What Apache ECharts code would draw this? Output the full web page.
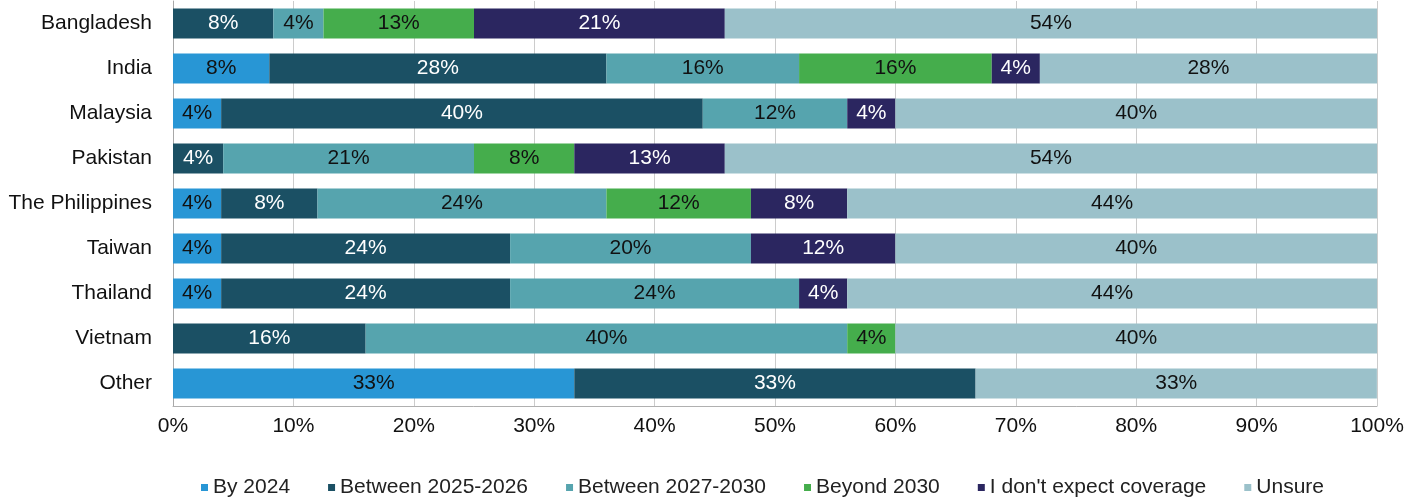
<!DOCTYPE html>
<html>
<head>
<meta charset="utf-8">
<script src="https://cdn.jsdelivr.net/npm/echarts@6/dist/echarts.min.js"></script>
<style>
  html, body { margin: 0; padding: 0; background: #fff; }
  #chart { width: 1408px; height: 499px; }
</style>
</head>
<body>
<div id="chart"></div>
<script>
// categories, top to bottom
var countries = ['Bangladesh', 'India', 'Malaysia', 'Pakistan', 'The Philippines', 'Taiwan', 'Thailand', 'Vietnam', 'Other']

// share of respondents (%) per answer
var by2024      = [0,    8,  4,  0,     4,  4,  4,  0,  33.33]
var y2025_2026  = [8.33, 28, 40, 4.17,  8,  24, 24, 16, 33.33]
var y2027_2030  = [4.17, 16, 12, 20.83, 24, 20, 24, 40, 0]
var beyond2030  = [12.5, 16, 0,  8.33,  12, 0,  0,  4,  0]
var noCoverage  = [20.83, 4, 4,  12.5,  8,  12, 4,  0,  0]
var unsure      = [54.17, 28, 40, 54.17, 44, 40, 44, 40, 33.33]

var xTicks = [0, 10, 20, 30, 40, 50, 60, 70, 80, 90, 100]

var font = 'Liberation Sans, Arial, Helvetica, sans-serif'
var fs = 21

var seriesDefs = [
  { name: 'By 2024', data: by2024, color: '#2896d5', text: '#111' },
  { name: 'Between 2025-2026', data: y2025_2026, color: '#1b5064', text: '#fff' },
  { name: 'Between 2027-2030', data: y2027_2030, color: '#56a4ae', text: '#111' },
  { name: 'Beyond 2030', data: beyond2030, color: '#45ad4c', text: '#111' },
  { name: "I don't expect coverage", data: noCoverage, color: '#2b2660', text: '#fff' },
  { name: 'Unsure', data: unsure, color: '#9bc1ca', text: '#111' }
]

var chart = echarts.init(document.getElementById('chart'), null, { renderer: 'canvas' })

chart.setOption({
  animation: false,
  textStyle: { fontFamily: font },
  grid: {
    left: 173,
    right: 31,
    top: 1,
    bottom: 93
  },
  legend: {
    top: 472,
    left: 196,
    itemWidth: 7,
    itemHeight: 7,
    itemGap: 38,
    icon: 'rect',
    textStyle: { fontSize: fs, color: '#222', fontFamily: font },
    data: seriesDefs.map(function (s) { return s.name })
  },
  xAxis: {
    type: 'value',
    min: 0,
    max: 100,
    interval: 10,
    axisLabel: {
      fontSize: fs,
      color: '#111',
      margin: 10,
      formatter: function (v) { return xTicks.indexOf(v) >= 0 ? v + '%' : '' }
    },
    axisLine: { show: true, lineStyle: { color: '#b0b0b0', width: 1 } },
    axisTick: { show: false },
    splitLine: { show: true, lineStyle: { color: '#cccccc', width: 1 } }
  },
  yAxis: {
    type: 'category',
    inverse: true,
    data: countries,
    axisLabel: { fontSize: fs, color: '#111', margin: 21 },
    axisLine: { show: true, lineStyle: { color: '#a8a8a8', width: 1 } },
    axisTick: { show: false }
  },
  series: seriesDefs.map(function (s) {
    return {
      name: s.name,
      type: 'bar',
      stack: 'total',
      barWidth: 30,
      data: s.data,
      itemStyle: { color: s.color },
      label: {
        show: true,
        position: 'inside',
        fontSize: fs,
        color: s.text,
        fontFamily: font,
        formatter: function (p) { return p.value > 0 ? Math.round(p.value) + '%' : '' }
      }
    }
  })
})
</script>
</body>
</html>
